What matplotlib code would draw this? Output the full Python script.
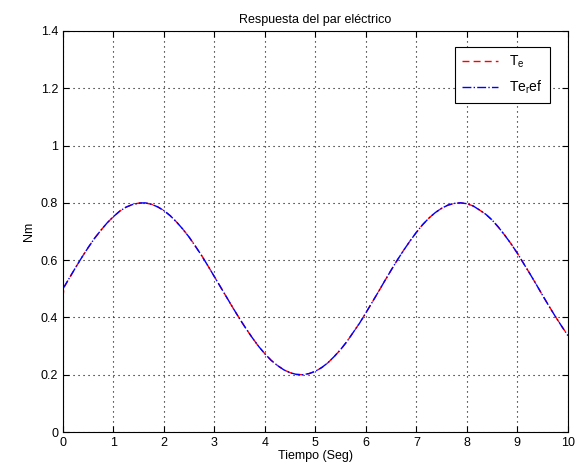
import matplotlib
matplotlib.use('Agg')
import matplotlib.pyplot as plt

plt.rcParams['font.family'] = ['Liberation Sans', 'DejaVu Sans']
plt.rcParams['font.size'] = 9
plt.rcParams['mathtext.fontset'] = 'custom'
plt.rcParams['mathtext.rm'] = 'Liberation Sans'
plt.rcParams['mathtext.it'] = 'Liberation Sans'

# values (every 0.125 s)
t = [i * 0.125 for i in range(81)]
te_ref = [0.500, 0.537, 0.574, 0.610, 0.644, 0.676, 0.704, 0.730,
          0.752, 0.771, 0.785, 0.794, 0.799, 0.800, 0.795, 0.786,
          0.773, 0.755, 0.733, 0.708, 0.680, 0.648, 0.615, 0.579,
          0.542, 0.505, 0.468, 0.431, 0.395, 0.361, 0.329, 0.299,
          0.273, 0.250, 0.232, 0.217, 0.207, 0.201, 0.200, 0.204,
          0.212, 0.225, 0.242, 0.264, 0.288, 0.316, 0.348, 0.380,
          0.416, 0.453, 0.490, 0.528, 0.565, 0.601, 0.635, 0.667,
          0.697, 0.724, 0.747, 0.766, 0.781, 0.792, 0.798, 0.800,
          0.797, 0.789, 0.775, 0.760, 0.740, 0.715, 0.687, 0.657,
          0.624, 0.588, 0.552, 0.515, 0.477, 0.440, 0.404, 0.370,
          0.337]
# Te has a small start transient, then follows the reference
te_t = [0.0, 0.02] + t[1:]
te = [0.47, 0.505] + te_ref[1:]

fig = plt.figure(figsize=(5.83, 4.76), dpi=100)
ax = fig.add_axes([0.108, 0.0924, 0.866, 0.8426])

ax.plot(te_t, te, 'r--', lw=1, dashes=(5, 3), label='T$_\\mathregular{e}$')
ax.plot(t, te_ref, 'b-.', lw=1, label='Te$_\\mathregular{r}$ef')

ax.set_xlim(0, 10)
ax.set_ylim(0, 1.4)
ax.set_xticks(range(0, 11))
ax.set_yticks([0, 0.2, 0.4, 0.6, 0.8, 1.0, 1.2, 1.4])
ax.set_yticklabels(['0', '0.2', '0.4', '0.6', '0.8', '1', '1.2', '1.4'])
ax.tick_params(direction='in', top=True, right=True, length=4, width=0.8)
ax.grid(True, color='k', linestyle=(0, (1, 3.5)), linewidth=0.8)
for s in ax.spines.values():
    s.set_linewidth(0.8)

ax.set_title('Respuesta del par eléctrico', fontsize=9)
ax.set_xlabel('Tiempo (Seg)', labelpad=1)
ax.set_ylabel('Nm')

leg = ax.legend(loc='upper right', bbox_to_anchor=(0.955, 0.916),
                bbox_transform=fig.transFigure, fancybox=False,
                edgecolor='k', framealpha=1, fontsize=10, handlelength=2.6,
                borderpad=0.5, labelspacing=0.6)
leg.get_frame().set_linewidth(0.8)

fig.savefig('out.png', dpi=100)
